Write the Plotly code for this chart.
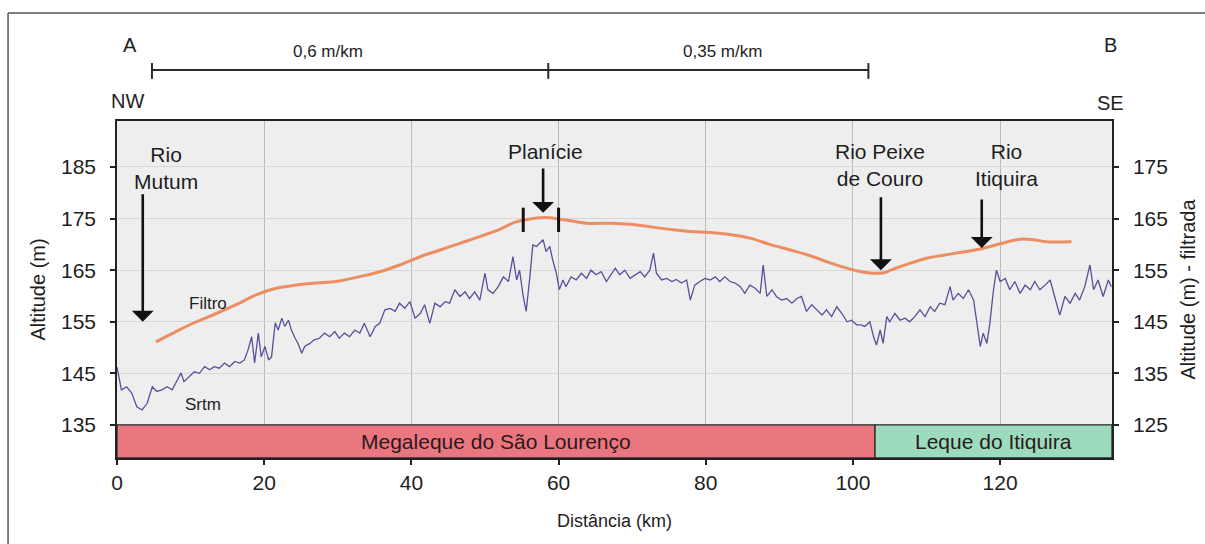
import plotly.graph_objects as go

# --- Perfil topográfico A-B (NW-SE) -------------------------------------
# SRTM altitude (m) along the profile
srtm_km = [0.0, 0.6, 1.3, 2.0, 2.7, 3.4, 4.1, 4.8, 5.4, 6.1, 6.8, 7.5, 8.2, 8.7, 9.1, 9.8,
           10.5, 11.2, 11.9, 12.6, 13.2, 13.9, 14.6, 15.3, 16.0, 16.7, 17.3, 17.8, 18.3, 18.7,
           19.2, 19.6, 20.1, 20.6, 21.0, 21.5, 21.9, 22.4, 22.8, 23.3, 23.7, 24.2, 24.6, 25.1,
           25.5, 26.2, 26.8, 27.5, 28.2, 28.9, 29.6, 30.2, 30.9, 31.6, 32.3, 33.0, 33.6, 34.4,
           35.1, 35.7, 36.4, 37.1, 37.8, 38.4, 39.1, 39.8, 40.5, 41.2, 41.8, 42.5, 43.2, 43.9,
           44.6, 45.2, 45.9, 46.6, 47.3, 47.9, 48.6, 49.3, 50.0, 50.4, 51.1, 51.8, 52.5, 53.2,
           53.8, 54.3, 54.7, 55.2, 55.6, 56.1, 56.5, 57.0, 57.4, 57.9, 58.3, 58.8, 59.2, 59.7,
           60.1, 60.6, 61.0, 61.7, 62.4, 63.1, 63.8, 64.4, 65.1, 65.8, 66.5, 67.1, 67.7, 68.3,
           69.0, 69.7, 70.4, 71.1, 71.7, 72.4, 72.9, 73.3, 74.0, 74.7, 75.4, 76.0, 76.7, 77.4,
           77.9, 78.5, 79.2, 79.9, 80.6, 81.3, 81.9, 82.6, 83.3, 84.0, 84.7, 85.3, 86.0, 86.7,
           87.4, 87.8, 88.3, 89.0, 89.6, 90.3, 91.0, 91.7, 92.4, 93.0, 93.7, 94.4, 95.1, 95.8,
           96.4, 97.1, 97.8, 98.5, 99.2, 99.8, 100.5, 101.1, 101.6, 102.3, 102.8, 103.2, 103.7,
           104.1, 104.6, 105.0, 105.7, 106.4, 107.1, 107.7, 108.4, 109.1, 109.8, 110.5, 111.1,
           111.8, 112.5, 113.2, 113.6, 114.3, 115.0, 115.7, 116.4, 116.8, 117.3, 117.7, 118.2,
           118.6, 119.1, 119.5, 120.0, 120.7, 121.3, 122.0, 122.7, 123.4, 124.1, 124.7, 125.4,
           126.1, 126.8, 127.4, 128.1, 128.8, 129.5, 130.2, 130.8, 131.5, 132.2, 132.7, 133.3,
           134.0, 134.7, 135.1]
srtm_alt = [146.2, 141.8, 142.4, 141.2, 138.5, 137.9, 139.2, 142.4, 141.5, 141.8, 142.4, 141.8,
            143.7, 145.1, 143.4, 144.4, 145.3, 145.0, 146.3, 145.7, 146.3, 146.0, 147.0, 146.3,
            147.3, 147.0, 147.6, 149.5, 152.1, 147.0, 152.8, 148.2, 150.2, 147.6, 148.2, 154.8,
            153.4, 155.7, 154.1, 155.3, 153.4, 151.8, 150.8, 148.9, 150.2, 150.8, 151.5, 151.8,
            152.8, 152.1, 153.1, 151.8, 152.8, 152.1, 153.4, 152.8, 154.7, 152.1, 154.1, 154.7,
            157.3, 157.6, 157.0, 158.6, 157.6, 158.9, 155.7, 156.6, 158.3, 154.7, 158.6, 157.9,
            158.9, 158.6, 161.2, 159.9, 160.8, 159.5, 160.8, 159.2, 164.4, 161.2, 160.5, 161.8,
            163.7, 162.8, 167.6, 163.1, 165.0, 159.9, 157.0, 163.7, 169.9, 169.6, 170.2, 170.9,
            168.6, 169.6, 167.0, 164.4, 161.2, 163.1, 161.8, 163.7, 163.1, 164.4, 163.4, 165.0,
            164.1, 164.7, 162.8, 164.1, 165.4, 164.1, 165.0, 163.4, 164.1, 164.7, 163.7, 165.0,
            168.3, 164.4, 163.1, 163.4, 162.8, 163.2, 162.5, 163.1, 159.2, 162.1, 162.8, 163.4,
            163.1, 163.7, 162.8, 163.7, 162.8, 162.5, 161.8, 160.5, 162.1, 161.5, 160.5, 166.0,
            159.9, 161.2, 159.9, 159.2, 159.5, 158.6, 159.5, 159.9, 157.0, 158.3, 157.3, 156.3,
            157.3, 156.0, 157.9, 156.6, 155.0, 155.3, 154.4, 154.4, 154.1, 155.0, 152.1, 150.5,
            153.4, 150.8, 156.0, 155.0, 156.6, 155.3, 155.7, 155.0, 156.0, 157.3, 156.0, 157.9,
            157.0, 158.6, 158.3, 161.8, 159.2, 160.5, 159.5, 161.2, 159.2, 154.7, 150.2, 152.8,
            150.8, 154.7, 161.2, 165.0, 162.8, 163.4, 161.2, 162.8, 160.5, 162.1, 161.2, 162.8,
            161.2, 162.1, 163.1, 159.9, 156.3, 159.9, 158.6, 160.5, 159.2, 161.8, 166.0, 161.2,
            163.1, 159.9, 163.1, 161.8]

# Filtered altitude (m), read on the right-hand axis
filtro_km = [5.3, 8.0, 10.8, 13.5, 16.2, 18.9, 21.6, 24.4, 27.1, 29.8, 32.5, 35.7, 38.4, 41.2,
             43.9, 46.6, 49.3, 52.0, 54.3, 56.5, 58.3, 61.0, 63.8, 67.2, 69.7, 72.4, 75.2, 77.9,
             80.6, 83.3, 86.0, 88.7, 91.5, 94.2, 96.9, 99.6, 101.5, 103.0, 104.2, 105.5, 107.7,
             110.0, 112.3, 114.5, 117.3, 120.0, 122.7, 124.5, 126.3, 129.7]
filtro_alt = [141.1, 143.1, 145.0, 146.6, 148.3, 150.2, 151.5, 152.1, 152.5, 152.8, 153.6, 154.7,
              156.0, 157.6, 158.9, 160.2, 161.5, 162.9, 164.4, 165.0, 165.2, 164.7, 164.1, 164.1,
              163.9, 163.4, 162.9, 162.5, 162.3, 161.9, 161.2, 160.0, 158.9, 157.8, 156.4, 155.2,
              154.6, 154.4, 154.5, 155.2, 156.3, 157.3, 157.9, 158.4, 159.1, 160.1, 161.0, 160.9,
              160.5, 160.5]

# Geomorphological units along the profile
unit_names = ["Megaleque do São Lourenço", "Leque do Itiquira"]
unit_start_km = [0, 103]
unit_end_km = [103, 135.2]
unit_colors = ["#ea7780", "#9ddbbe"]

# Gradient segments (scale bar above the profile)
gradient_breaks_km = [4.75, 58.6, 102.1]
gradient_labels = ["0,6 m/km", "0,35 m/km"]
gradient_label_km = [28.7, 82.3]

# Features pointed at on the profile
feature_names = ["Rio<br>Mutum", "Planície", "Rio Peixe<br>de Couro", "Rio<br>Itiquira"]
feature_km = [3.5, 57.9, 103.8, 117.5]
feature_tip_alt = [155.0, 176.1, 165.0, 169.3]
feature_tail_alt = [180.0, 185.0, 179.4, 179.0]
feature_label_km = [6.7, 58.2, 103.7, 120.9]
feature_label_alt = [184.8, 187.9, 185.4, 185.4]

# Limits of the "Planície" plateau on the filtered profile
plain_limits_km = [55.2, 60.0]

x_ticks = [0, 20, 40, 60, 80, 100, 120]
y_ticks = [135, 145, 155, 165, 175, 185]
y2_ticks = [125, 135, 145, 155, 165, 175]

Y_RANGE = [128.6, 193.9]
Y2_OFFSET = 10  # right axis = left axis - 10 m
X_RANGE = [0, 135.2]

FONT = "Arial"
TXT = "#1e1e1e"

fig = go.Figure()

fig.add_trace(go.Scatter(x=srtm_km, y=srtm_alt, mode="lines", name="Srtm",
                         line=dict(color="#55519a", width=1.3), showlegend=False))
fig.add_trace(go.Scatter(x=filtro_km, y=filtro_alt, mode="lines", name="Filtro", yaxis="y2",
                         line=dict(color="#ec8d62", width=3, shape="spline"), showlegend=False))

shapes = []
# unit band under the profile
for name, x0, x1, col in zip(unit_names, unit_start_km, unit_end_km, unit_colors):
    shapes.append(dict(type="rect", xref="x", yref="y", x0=x0, x1=x1, y0=Y_RANGE[0], y1=y_ticks[0],
                       fillcolor=col, line=dict(color="#2a2a2a", width=1.3), layer="above"))

# gradient scale bar
shapes.append(dict(type="line", xref="x", yref="paper", x0=gradient_breaks_km[0],
                   x1=gradient_breaks_km[-1], y0=1.151, y1=1.151,
                   line=dict(color="#2a2a2a", width=2)))
for b in gradient_breaks_km:
    shapes.append(dict(type="line", xref="x", yref="paper", x0=b, x1=b, y0=1.125, y1=1.172,
                       line=dict(color="#2a2a2a", width=2)))

# plain limit marks
for k in plain_limits_km:
    shapes.append(dict(type="line", xref="x", yref="y", x0=k, x1=k, y0=172.4, y1=177.1,
                       line=dict(color="#111111", width=3)))

# outer frame (top and left edges)
shapes.append(dict(type="line", xref="paper", yref="paper", x0=-0.1095, x1=1.2, y0=1.3205, y1=1.3205,
                   line=dict(color="#555555", width=1.5)))
shapes.append(dict(type="line", xref="paper", yref="paper", x0=-0.1095, x1=-0.1095, y0=-0.5, y1=1.3205,
                   line=dict(color="#555555", width=1.5)))

annotations = []
for name, k, tip, tail, lk, la in zip(feature_names, feature_km, feature_tip_alt, feature_tail_alt,
                                      feature_label_km, feature_label_alt):
    annotations.append(dict(x=k, y=tip, xref="x", yref="y", ax=k, ay=tail, axref="x", ayref="y",
                            text="", showarrow=True, arrowhead=1, arrowsize=1.4, arrowwidth=2.6,
                            arrowcolor="#111111", standoff=0))
    annotations.append(dict(x=lk, y=la, xref="x", yref="y", text=name, showarrow=False,
                            xanchor="center", yanchor="middle",
                            font=dict(family=FONT, size=21, color=TXT), align="center"))

for lab, k in zip(gradient_labels, gradient_label_km):
    annotations.append(dict(x=k, y=1.207, xref="x", yref="paper", text=lab, showarrow=False,
                            xanchor="center", yanchor="middle",
                            font=dict(family=FONT, size=17, color=TXT)))

for txt, xp, yp in [("A", 0.013, 1.2255), ("B", 0.998, 1.2255), ("NW", 0.011, 1.059),
                    ("SE", 0.998, 1.053)]:
    annotations.append(dict(x=xp, y=yp, xref="paper", yref="paper", text=txt, showarrow=False,
                            xanchor="center", yanchor="middle",
                            font=dict(family=FONT, size=20, color=TXT)))

# series labels
annotations.append(dict(x=12.4, y=158.6, xref="x", yref="y", text="Filtro", showarrow=False,
                        font=dict(family=FONT, size=17, color=TXT)))
annotations.append(dict(x=11.7, y=138.9, xref="x", yref="y", text="Srtm", showarrow=False,
                        font=dict(family=FONT, size=17, color=TXT)))

# unit names
for name, x0, x1 in zip(unit_names, unit_start_km, unit_end_km):
    annotations.append(dict(x=(x0 + x1) / 2, y=(Y_RANGE[0] + y_ticks[0]) / 2,
                            xref="x", yref="y", text=name, showarrow=False,
                            font=dict(family=FONT, size=21, color="#2a1a1a")))

axis_font = dict(family=FONT, size=21, color=TXT)
title_font = dict(family=FONT, size=20, color=TXT)

fig.update_layout(
    width=1205, height=544,
    margin=dict(l=117, r=93, t=121, b=86, pad=0),
    paper_bgcolor="white", plot_bgcolor="#eeeeee",
    font=dict(family=FONT, color=TXT),
    shapes=shapes, annotations=annotations,
    xaxis=dict(range=X_RANGE, tickvals=x_ticks, ticks="outside", ticklen=5, tickwidth=1.5,
               tickcolor="#222", showline=True, linecolor="#222", linewidth=1.5, mirror=True,
               showgrid=True, gridcolor="#b9b9b9", gridwidth=1, zeroline=False,
               tickfont=axis_font, ticklabelstandoff=0, automargin=False,
               title=dict(text="Distância (km)", font=dict(family=FONT, size=18, color=TXT),
                          standoff=21)),
    yaxis=dict(range=Y_RANGE, tickvals=y_ticks, ticks="outside", ticklen=5, tickwidth=1.5,
               tickcolor="#222", showline=True, linecolor="#222", linewidth=1.5,
               showgrid=True, gridcolor="#d7d7d7", gridwidth=1, zeroline=False,
               tickfont=axis_font, ticklabelstandoff=10, automargin=False,
               title=dict(text="Altitude (m)", font=title_font, standoff=10)),
    yaxis2=dict(range=[Y_RANGE[0] - Y2_OFFSET, Y_RANGE[1] - Y2_OFFSET], tickvals=y2_ticks,
                overlaying="y", side="right", ticks="outside", ticklen=5, tickwidth=1.5,
                tickcolor="#222", showline=True, linecolor="#222", linewidth=1.5,
                showgrid=False, zeroline=False, tickfont=axis_font, ticklabelstandoff=10,
                automargin=False,
                title=dict(text="Altitude (m) - filtrada", font=title_font, standoff=14)),
)

fig.write_html("out.html")
